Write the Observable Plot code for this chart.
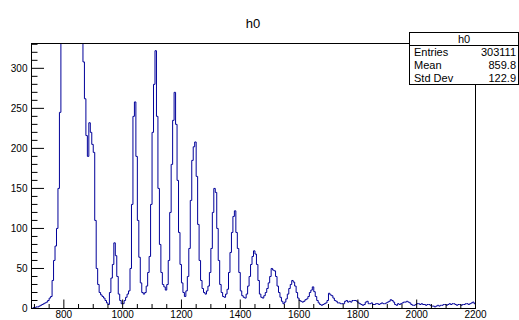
<!DOCTYPE html>
<html><head><meta charset="utf-8">
<script src="https://cdn.jsdelivr.net/npm/d3@7"></script>
<script src="https://cdn.jsdelivr.net/npm/@observablehq/plot@0.6"></script>
<style>
body{margin:0;background:#fff;font-family:"Liberation Sans",Arial,sans-serif;color:#000;}
#wrap{position:relative;width:519px;height:320px;overflow:hidden;}
#title{position:absolute;left:203px;width:100px;top:17px;text-align:center;font-size:13px;line-height:13px;}
#stats{position:absolute;left:409px;top:32px;width:110px;height:53px;box-sizing:border-box;border:1px solid #000;background:#fff;font-size:11px;}
#stats .hd{height:12px;line-height:12px;text-align:center;border-bottom:1px solid #000;}
#stats .row{height:13px;line-height:13px;display:flex;justify-content:space-between;padding:0 2px 0 4px;}
</style>
</head><body>
<div id="wrap"><div id="chart"></div><div id="title"></div><div id="stats"></div></div>
<script>
// Histogram h0: bins of width 5 starting at 690 (counts)
const histTitle = "h0";
const binLow = 690;
const binWidth = 5;
const counts = [
  0,1,1,2,2,3,4,5,6,7,             // 690-735
  8,10,13,15,35,60,78,100,150,245, // 740-785
  420,700,1100,1600,2100,2600,2900,3000,2900,2600, // 790-835 (clipped)
  2200,1700,1200,800,520,308,262,216,190,232,      // 840-885
  220,205,195,110,50,30,20,17,15,13,               // 890-935
  10,7,5,20,38,55,82,66,40,18,                     // 940-985
  10,6,6,10,14,18,22,50,130,240,                   // 990-1035
  258,190,110,64,32,20,18,20,28,45,                // 1040-1085
  65,130,220,280,322,240,150,80,45,30,             // 1090-1135
  27,23,30,60,120,180,235,270,230,160,             // 1140-1185
  95,55,32,20,15,22,40,75,135,185,                 // 1190-1235
  202,208,165,105,60,35,25,20,18,22,               // 1240-1285
  28,45,75,120,150,145,100,60,30,20,               // 1290-1335
  15,14,18,24,45,70,95,115,122,95,                 // 1340-1385
  75,45,22,16,14,13,18,28,40,55,                   // 1390-1435
  65,72,68,55,35,18,14,13,16,20,                   // 1440-1485
  25,32,40,50,48,47,40,28,20,14,                   // 1490-1535
  9,6,8,12,18,25,30,35,33,28,                      // 1540-1585
  20,13,10,9,8,9,11,12,15,20,                      // 1590-1635
  23,27,21,15,10,7,5,4,5,6,                        // 1640-1685
  7,10,19,17,16,13,10,9,7,7,                       // 1690-1735
  6,6,6,9,10,8,9,8,10,10,                          // 1740-1785
  10,9,7,6,5,4,5,8,9,6,                            // 1790-1835
  6,7,5,5,6,6,5,6,7,6,                             // 1840-1885
  6,7,8,9,11,10,8,5,4,6,                           // 1890-1935
  5,6,7,8,8,9,8,7,5,4,                             // 1940-1985
  4,5,6,6,5,6,5,5,4,5,                             // 1990-2035
  5,4,3,3,2,3,4,3,4,4,                             // 2040-2085
  5,5,4,5,6,5,6,6,5,4,                             // 2090-2135
  5,5,4,5,5,6,6,5,6,7,                             // 2140-2185
  8,6                                              // 2190-2195
];
const xDomain = [690, 2200];
const yDomain = [0, 331];
const xMajorTicks = [800, 1000, 1200, 1400, 1600, 1800, 2000, 2200];
const xMinorTicks = [700,750,850,900,950,1050,1100,1150,1250,1300,1350,1450,1500,1550,1650,1700,1750,1850,1900,1950,2050,2100,2150];
const yMajorTicks = [0, 50, 100, 150, 200, 250, 300];
const yMinorTicks = [10,20,30,40,60,70,80,90,110,120,130,140,160,170,180,190,210,220,230,240,260,270,280,290,310,320,330];
const statLabels = ["Entries", "Mean", "Std Dev"];
const statValues = ["303111", "859.8", "122.9"];

const points = counts.map((c, i) => ({x: binLow + i * binWidth, y: c}));
points.push({x: binLow + counts.length * binWidth, y: counts[counts.length - 1]});

const W = 519, H = 320, mL = 31, mR = 44, mT = 43, mB = 12;
const plotW = W - mL - mR, plotH = H - mT - mB;

const chart = Plot.plot({
  width: W, height: H,
  marginLeft: mL, marginRight: mR, marginTop: mT, marginBottom: mB,
  style: {fontFamily: "'Liberation Sans', Arial, sans-serif", fontSize: "10px", color: "#000", background: "#fff", overflow: "visible"},
  x: {domain: xDomain},
  y: {domain: yDomain, clamp: true},
  marks: [
    Plot.line(points, {x: "x", y: "y", curve: "step-after", stroke: "#000099", strokeWidth: 1, clip: true}),
    Plot.frame({stroke: "#000"}),
    Plot.tickX(xMinorTicks, {x: d => d, insetTop: plotH - 4, stroke: "#000"}),
    Plot.tickX(xMajorTicks, {x: d => d, insetTop: plotH - 8.5, stroke: "#000"}),
    Plot.tickY(yMinorTicks, {y: d => d, insetRight: plotW - 6.5, stroke: "#000"}),
    Plot.tickY(yMajorTicks, {y: d => d, insetRight: plotW - 13, stroke: "#000"}),
    Plot.axisX(xMajorTicks, {tickSize: 0, tickPadding: 2, fontSize: 10, label: null, tickFormat: d => String(d)}),
    Plot.axisY(yMajorTicks, {tickSize: 0, tickPadding: 4, fontSize: 10, label: null, tickFormat: d => String(d)})
  ]
});
document.getElementById("chart").appendChild(chart);
document.getElementById("title").textContent = histTitle;
const st = document.getElementById("stats");
const hd = document.createElement("div"); hd.className = "hd"; hd.textContent = histTitle; st.appendChild(hd);
statLabels.forEach((l, i) => {
  const r = document.createElement("div"); r.className = "row";
  const a = document.createElement("span"); a.textContent = l;
  const b = document.createElement("span"); b.textContent = statValues[i];
  r.appendChild(a); r.appendChild(b); st.appendChild(r);
});
</script>
</body></html>
